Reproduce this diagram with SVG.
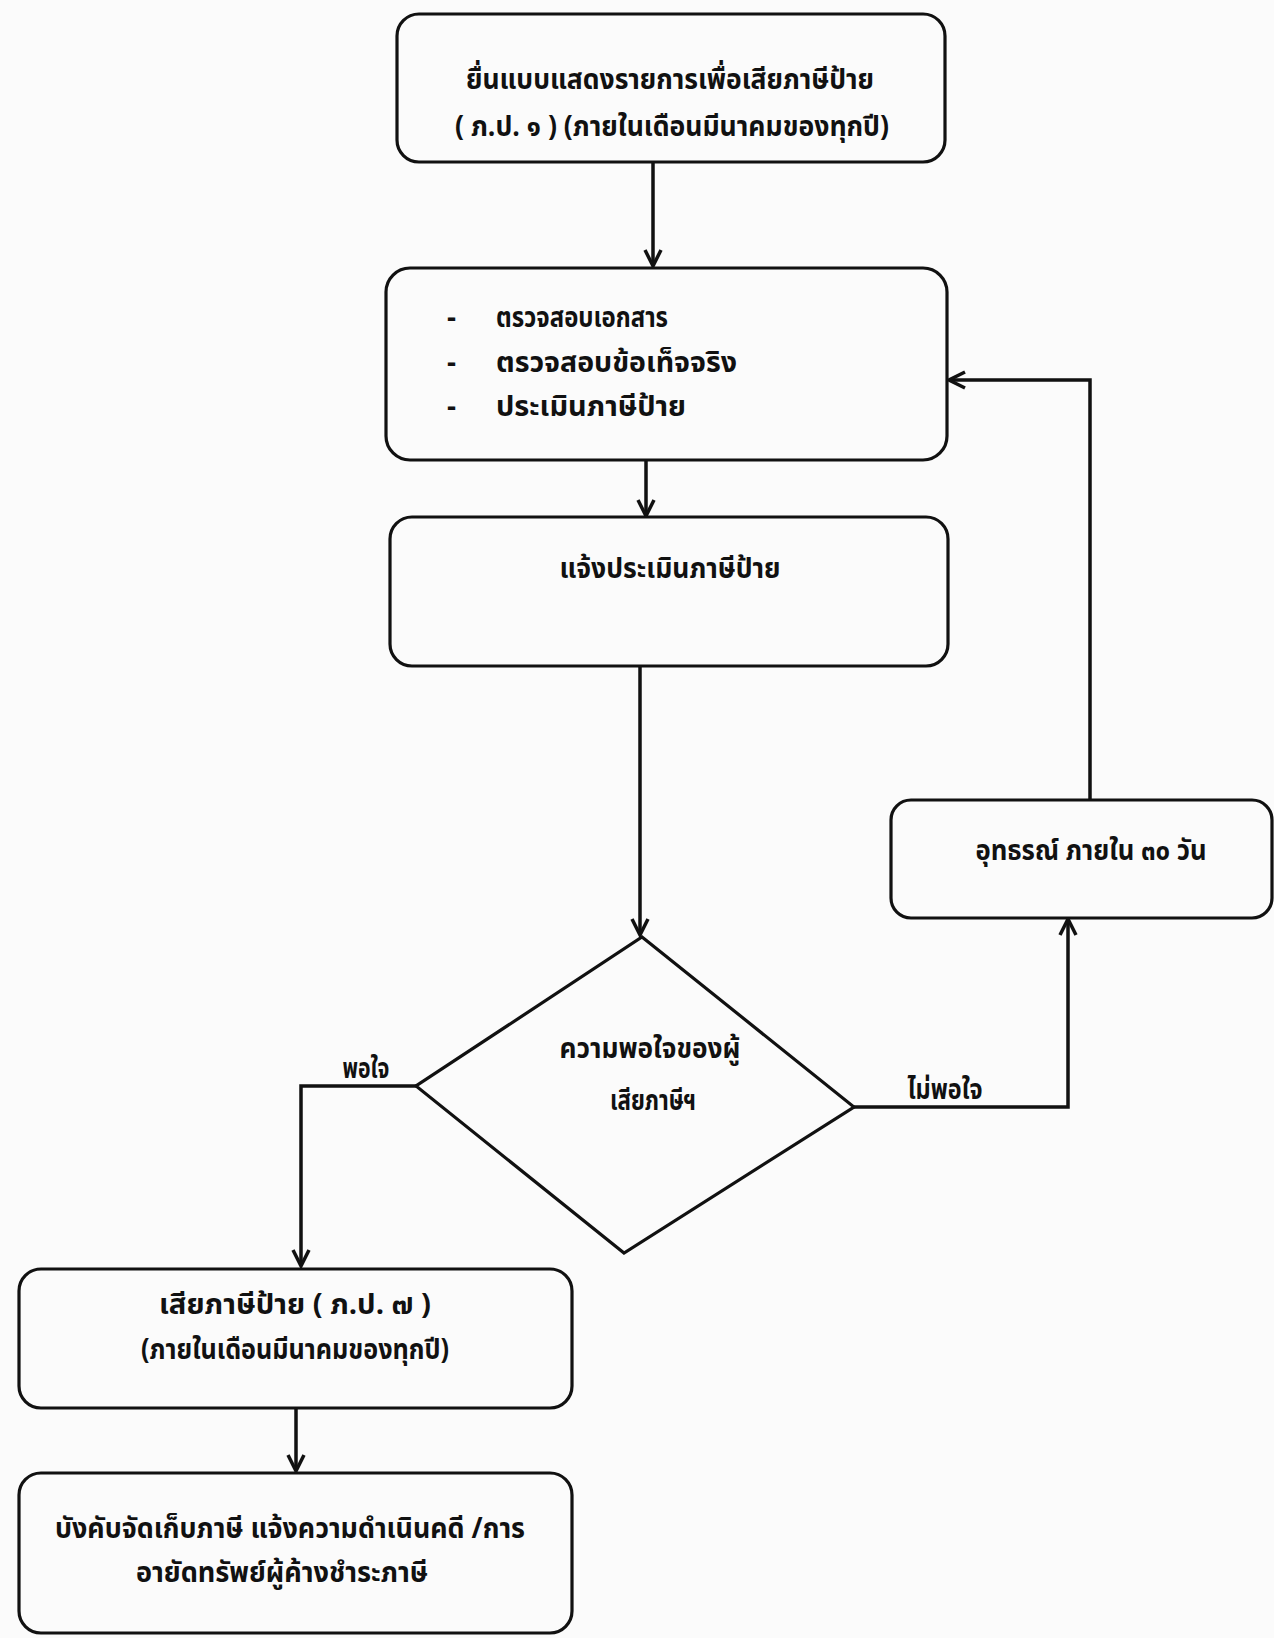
<svg xmlns="http://www.w3.org/2000/svg" width="1274" height="1638" viewBox="0 0 1274 1638">
<style>
.box{fill:none;stroke:#111;stroke-width:3.2}
.ln{fill:none;stroke:#111;stroke-width:3.5}
text{font-family:"Noto Sans Thai","Noto Sans","DejaVu Sans",sans-serif;font-weight:bold;font-size:28px;fill:#111}
.c{text-anchor:middle}
</style>
<defs>
<marker id="ah" viewBox="0 0 20 20" refX="18" refY="10" markerWidth="20" markerHeight="20" markerUnits="userSpaceOnUse" orient="auto">
<path d="M2,2 L18,10 L2,18" fill="none" stroke="#111" stroke-width="3.5"/>
</marker>
</defs>
<rect width="1274" height="1638" fill="#fbfbfb"/>
<g id="connectors">
<line class="ln" x1="653" y1="162" x2="653" y2="266" marker-end="url(#ah)"/>
<line class="ln" x1="646" y1="460" x2="646" y2="516" marker-end="url(#ah)"/>
<line class="ln" x1="640" y1="666" x2="640" y2="935" marker-end="url(#ah)"/>
<polyline class="ln" points="416,1086 301,1086 301,1266" marker-end="url(#ah)"/>
<line class="ln" x1="296" y1="1408" x2="296" y2="1471" marker-end="url(#ah)"/>
<polyline class="ln" points="854,1107 1068,1107 1068,919" marker-end="url(#ah)"/>
<polyline class="ln" points="1090,800 1090,380 949,380" marker-end="url(#ah)"/>
<text class="c" x="366" y="1078" textLength="47" lengthAdjust="spacingAndGlyphs">พอใจ</text>
<text class="c" x="945" y="1099" textLength="75" lengthAdjust="spacingAndGlyphs">ไม่พอใจ</text>
</g>
<g id="n1">
<rect class="box" x="397" y="14" width="548" height="148" rx="22"/>
<text class="c" x="670" y="89" textLength="408" lengthAdjust="spacingAndGlyphs">ยื่นแบบแสดงรายการเพื่อเสียภาษีป้าย</text>
<text class="c" x="672" y="136" textLength="434" lengthAdjust="spacingAndGlyphs">( ภ.ป. ๑ ) (ภายในเดือนมีนาคมของทุกปี)</text>
</g>
<g id="n2">
<rect class="box" x="386" y="268" width="561" height="192" rx="24"/>
<text x="447" y="327">-</text><text x="496" y="327" textLength="172" lengthAdjust="spacingAndGlyphs">ตรวจสอบเอกสาร</text>
<text x="447" y="372">-</text><text x="496" y="372" textLength="241" lengthAdjust="spacingAndGlyphs">ตรวจสอบข้อเท็จจริง</text>
<text x="447" y="416">-</text><text x="496" y="416" textLength="190" lengthAdjust="spacingAndGlyphs">ประเมินภาษีป้าย</text>
</g>
<g id="n3">
<rect class="box" x="390" y="517" width="558" height="149" rx="22"/>
<text class="c" x="670" y="578" textLength="221" lengthAdjust="spacingAndGlyphs">แจ้งประเมินภาษีป้าย</text>
</g>
<g id="n4">
<rect class="box" x="891" y="800" width="381" height="118" rx="20"/>
<text class="c" x="1091" y="860" textLength="231" lengthAdjust="spacingAndGlyphs">อุทธรณ์ ภายใน ๓๐ วัน</text>
</g>
<g id="n5">
<polygon class="box" points="642,937 854,1107 624,1253 416,1086"/>
<text class="c" x="650" y="1058" textLength="181" lengthAdjust="spacingAndGlyphs">ความพอใจของผู้</text>
<text class="c" x="653" y="1110" textLength="86" lengthAdjust="spacingAndGlyphs">เสียภาษีฯ</text>
</g>
<g id="n6">
<rect class="box" x="19" y="1269" width="553" height="139" rx="22"/>
<text class="c" x="295" y="1314" textLength="272" lengthAdjust="spacingAndGlyphs">เสียภาษีป้าย ( ภ.ป. ๗ )</text>
<text class="c" x="295" y="1359" textLength="308" lengthAdjust="spacingAndGlyphs">(ภายในเดือนมีนาคมของทุกปี)</text>
</g>
<g id="n7">
<rect class="box" x="19" y="1473" width="553" height="160" rx="22"/>
<text class="c" x="290" y="1538" textLength="470" lengthAdjust="spacingAndGlyphs">บังคับจัดเก็บภาษี  แจ้งความดำเนินคดี /การ</text>
<text class="c" x="282" y="1582" textLength="292" lengthAdjust="spacingAndGlyphs">อายัดทรัพย์ผู้ค้างชำระภาษี</text>
</g>
</svg>
